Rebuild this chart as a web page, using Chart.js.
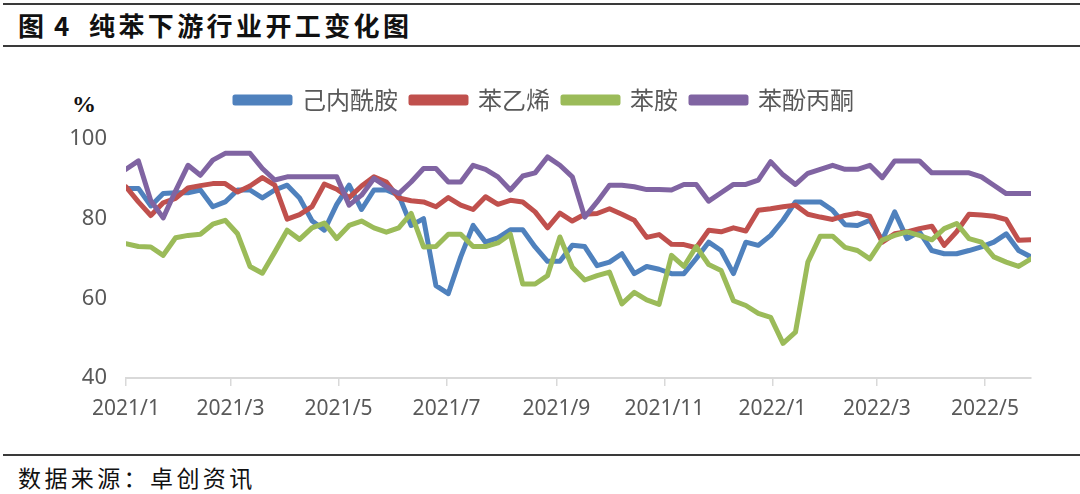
<!DOCTYPE html>
<html>
<head>
<meta charset="utf-8">
<script src="https://cdn.jsdelivr.net/npm/chart.js@4.4.1/dist/chart.umd.min.js"></script>
<style>
  html, body { margin: 0; padding: 0; background: #ffffff; }
  body { width: 1080px; height: 494px; position: relative; overflow: hidden; }
  .rule { position: absolute; left: 3px; right: 0; height: 2px; background: #3a3a3a; }
  .txt { position: absolute; white-space: nowrap; color: #111; }
  #chartBox { position: absolute; left: 0; top: 50px; width: 1080px; height: 400px; }
</style>
</head>
<body>
<div class="rule" style="top:3px;"></div>
<div class="txt" style="left:18px; top:9px; font: 600 26px 'Noto Sans CJK SC'; line-height:32px; word-spacing:4px;">图 4</div>
<div class="txt" style="left:89px; top:9px; font: 600 26px 'Noto Sans CJK SC'; line-height:32px; letter-spacing:3.4px;">纯苯下游行业开工变化图</div>
<div class="rule" style="top:45px;"></div>
<div class="txt" style="left:72px; top:92px; font: bold 24px 'Liberation Serif'; line-height:24px;">%</div>
<div id="chartBox"><canvas id="c"></canvas></div>
<div class="rule" style="top:454px;"></div>
<div class="txt" style="left:18px; top:462px; font: 23px 'Noto Sans CJK SC'; line-height:30px; letter-spacing:3.4px;">数据来源：卓创资讯</div>
<script>
// weekly observations starting 2021-01-01
const startDate = new Date(Date.UTC(2021, 0, 1));
const weekCount = 74;
const weekDays = Array.from({length: weekCount}, (_, i) => i * 7);

// x-axis tick labels (month starts, day offset from 2021-01-01)
const tickLabels = ['2021/1','2021/3','2021/5','2021/7','2021/9','2021/11','2022/1','2022/3','2022/5'];
const tickDays = [0, 59, 120, 181, 243, 304, 365, 424, 485];

const seriesNames = ['己内酰胺', '苯乙烯', '苯胺', '苯酚丙酮'];

const caprolactam = [87.6,87.6,83.2,86.3,86.5,86.5,87.2,83.0,84.2,87.2,87.2,85.2,87.2,88.4,85.2,79.5,77.1,83.6,88.4,82.3,
  87.2,87.2,85.9,78.3,80.0,63.2,61.2,70.4,78.3,74.1,75.2,77.2,77.2,72.9,69.3,69.3,73.3,73.0,68.2,69.1,
  71.2,66.2,68.0,67.3,66.2,66.2,70.0,74.1,72.0,66.2,74.1,73.3,75.8,79.6,84.2,84.2,84.2,82.1,78.5,78.3,
  79.6,74.6,81.7,75.0,76.7,72.0,71.2,71.2,72.0,72.9,74.1,76.2,72.0,70.4];

const styrene = [88.0,84.2,80.8,84.0,85.1,87.7,88.3,88.8,88.8,86.7,88.2,90.3,88.4,79.9,81.0,83.0,88.7,87.4,85.3,88.2,
  90.5,89.2,85.2,84.5,84.2,83.0,85.3,83.4,82.3,85.5,83.6,84.6,84.2,81.7,77.7,81.4,79.4,81.1,81.3,82.5,
  81.1,79.6,75.3,76.0,73.6,73.5,72.7,77.1,76.7,77.7,76.9,82.1,82.5,83.0,83.4,81.1,80.4,79.8,80.8,81.4,
  80.6,74.1,76.2,76.7,77.5,78.1,73.3,76.7,81.1,80.9,80.6,79.8,74.6,74.7];

const aniline = [73.7,73.0,72.9,70.8,75.2,75.8,76.1,78.6,79.6,76.2,68.0,66.3,71.6,77.1,74.8,77.7,78.9,75.0,78.3,79.4,
  77.7,76.6,77.7,81.3,72.9,73.0,76.1,76.1,73.0,73.0,73.9,76.1,63.6,63.6,65.7,75.4,67.8,64.6,65.7,66.6,
  58.6,61.5,59.6,58.5,70.8,68.0,73.0,68.5,67.0,59.4,58.2,56.2,55.2,48.7,51.5,69.1,75.6,75.6,72.8,72.0,
  69.9,74.6,75.8,76.7,75.8,74.7,77.5,78.8,75.0,74.1,70.4,69.1,68.0,69.9];

const phenolAcetone = [92.4,94.5,84.5,80.2,87.0,93.4,90.9,94.7,96.4,96.4,96.4,92.6,89.7,90.5,90.5,90.5,90.5,90.5,83.4,85.9,
  90.1,88.0,86.3,89.2,92.6,92.6,89.2,89.2,93.4,92.4,90.5,87.2,90.7,91.5,95.5,93.4,90.5,80.4,84.2,88.4,
  88.4,88.0,87.3,87.3,87.2,88.6,88.6,84.4,86.5,88.6,88.6,89.7,94.3,91.0,88.6,91.4,92.4,93.4,92.4,92.4,
  93.4,90.3,94.5,94.5,94.5,91.5,91.5,91.5,91.5,90.5,88.4,86.3,86.3,86.3];

const colors = ['#4F81BD', '#C0504D', '#9BBB59', '#8064A2'];
const seriesValues = [caprolactam, styrene, aniline, phenolAcetone];
const drawOrder = [3, 2, 1, 0]; // later series drawn on top, like the original

const datasets = seriesNames.map((name, k) => ({
  label: name,
  data: seriesValues[k],
  borderColor: colors[k],
  backgroundColor: colors[k],
  borderWidth: 5,
  pointRadius: 0,
  pointHoverRadius: 0,
  tension: 0,
  fill: false,
  borderJoinStyle: 'round',
  borderCapStyle: 'round',
  order: drawOrder[k]
}));

const legendGap = {
  id: 'legendGap',
  beforeInit(chart) {
    const origFit = chart.legend.fit;
    chart.legend.fit = function () {
      origFit.bind(chart.legend)();
      this.height += 17;
    };
  }
};

new Chart(document.getElementById('c'), {
  type: 'line',
  data: { labels: weekDays, datasets },
  plugins: [legendGap],
  options: {
    responsive: true,
    maintainAspectRatio: false,
    animation: false,
    events: [],
    layout: { padding: { left: 58, right: 49, top: 25, bottom: 0 } },
    plugins: {
      tooltip: { enabled: false },
      legend: {
        position: 'top',
        labels: {
          boxWidth: 55,
          boxHeight: 6,
          padding: 13,
          color: '#595959',
          font: { family: "'Noto Sans CJK SC'", size: 24 },
          sort: (a, b) => a.datasetIndex - b.datasetIndex
        }
      }
    },
    scales: {
      x: {
        type: 'linear',
        min: 0,
        max: weekDays[weekDays.length - 1],
        afterBuildTicks(scale) { scale.ticks = tickDays.map(v => ({ value: v })); },
        afterFit(scale) { scale.height = 72; },
        ticks: {
          autoSkip: false,
          maxRotation: 0,
          padding: 10,
          color: '#595959',
          font: { family: "'Noto Sans'", size: 21 },
          callback(value) { const i = tickDays.indexOf(value); return i >= 0 ? tickLabels[i] : ''; }
        },
        grid: { display: true, drawOnChartArea: false, drawTicks: true, tickLength: 8, color: '#d9d9d9', lineWidth: 1.5 },
        border: { display: true, color: '#d9d9d9', width: 2 }
      },
      y: {
        min: 40,
        max: 100,
        afterFit(scale) { scale.width = 68; },
        ticks: {
          stepSize: 20,
          padding: 19,
          color: '#595959',
          font: { family: "'Noto Sans'", size: 22 }
        },
        grid: { display: false, drawTicks: false },
        border: { display: false }
      }
    }
  }
});
</script>
</body>
</html>
